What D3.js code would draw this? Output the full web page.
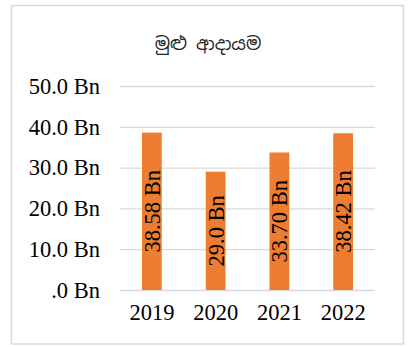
<!DOCTYPE html>
<html>
<head>
<meta charset="utf-8">
<script src="https://cdn.jsdelivr.net/npm/d3@7"></script>
<style>
  html, body { margin: 0; padding: 0; background: #fff; }
  svg { display: block; }
</style>
</head>
<body>
<svg id="chart" width="412" height="347"></svg>
<script>
// Total revenue by year, in billions
const years = ["2019", "2020", "2021", "2022"];
const revenue = [38.58, 29.0, 33.70, 38.42];
const valueLabels = ["38.58 Bn", "29.0 Bn", "33.70 Bn", "38.42 Bn"];
const yTicks = [0, 10, 20, 30, 40, 50];
const yTickLabels = [".0 Bn", "10.0 Bn", "20.0 Bn", "30.0 Bn", "40.0 Bn", "50.0 Bn"];
const title = "මුළු ආදායම";

const svg = d3.select("#chart");
const serif = "'Times New Roman', 'Liberation Serif', serif";
const fontSize = 22.5;

// outer frame
svg.append("rect")
  .attr("x", 11.5).attr("y", 5.5)
  .attr("width", 392).attr("height", 338.5)
  .attr("fill", "#fff")
  .attr("stroke", "#d9d9d9")
  .attr("stroke-width", 1.5);

svg.append("text")
  .attr("x", 208).attr("y", 50)
  .attr("text-anchor", "middle")
  .attr("font-family", "'Noto Sans Sinhala', 'Iskoola Pota', 'Noto Sans', sans-serif")
  .attr("font-size", 18)
  .attr("fill", "#222")
  .text(title);

const x = d3.scaleBand()
  .domain(years)
  .range([120, 375])
  .paddingInner(0.69)
  .paddingOuter(0.345);

const y = d3.scaleLinear()
  .domain([0, 50])
  .range([290, 86]);

// gridlines and value axis labels
const yAxis = d3.axisLeft(y)
  .tickValues(yTicks)
  .tickSize(-(375 - 120))
  .tickFormat((d, i) => yTickLabels[i]);

const gy = svg.append("g")
  .attr("transform", "translate(120,0)")
  .call(yAxis);
gy.select(".domain").remove();
gy.selectAll(".tick line")
  .attr("stroke", "#d9d9d9")
  .attr("stroke-width", 1.3);
gy.selectAll(".tick text")
  .attr("x", -20)
  .attr("dy", "0.32em")
  .attr("font-family", serif)
  .attr("font-size", fontSize)
  .attr("fill", "#000");

// bars
svg.append("g").selectAll("rect")
  .data(years)
  .join("rect")
  .attr("x", d => x(d))
  .attr("width", x.bandwidth())
  .attr("y", (d, i) => y(revenue[i]))
  .attr("height", (d, i) => y(0) - y(revenue[i]))
  .attr("fill", "#ed7d31");

// value labels, rotated inside the bars
svg.append("g").selectAll("text")
  .data(years)
  .join("text")
  .attr("transform", (d, i) => {
    const cx = x(d) + x.bandwidth() / 2;
    const cy = (y(revenue[i]) + y(0)) / 2;
    return `translate(${cx},${cy}) rotate(-90)`;
  })
  .attr("text-anchor", "middle")
  .attr("dy", "0.35em")
  .attr("font-family", serif)
  .attr("font-size", fontSize)
  .attr("fill", "#000")
  .text((d, i) => valueLabels[i]);

// category axis
const xAxis = d3.axisBottom(x).tickSize(0).tickPadding(14);
const gx = svg.append("g")
  .attr("transform", "translate(0,290)")
  .call(xAxis);
gx.select(".domain").remove();
gx.selectAll(".tick text")
  .attr("dy", "0.71em")
  .attr("font-family", serif)
  .attr("font-size", fontSize)
  .attr("fill", "#000");
</script>
</body>
</html>
